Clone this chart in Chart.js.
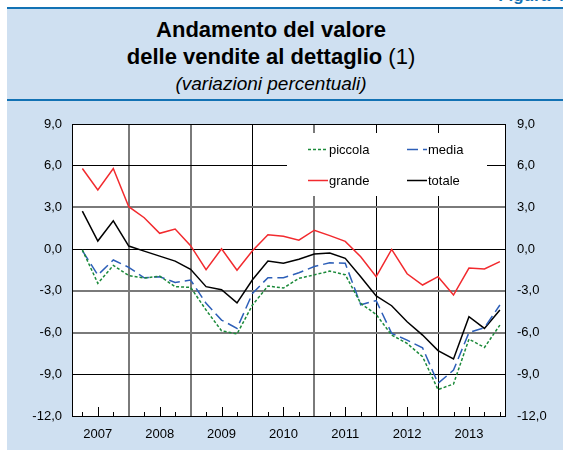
<!DOCTYPE html>
<html>
<head>
<meta charset="utf-8">
<script src="https://cdn.jsdelivr.net/npm/chart.js@4.4.1/dist/chart.umd.min.js"></script>
<style>
  html, body { margin: 0; padding: 0; background: #fff; }
  body { width: 563px; height: 450px; position: relative; overflow: hidden; font-family: 'Liberation Sans', Arial, sans-serif; }
  #panel { position: absolute; left: 7px; top: 7px; width: 556px; height: 443px; background: #cfe0f1; }
  .rule { position: absolute; left: 7px; width: 556px; height: 2px; background: #1272b4; }
  .title { position: absolute; left: 0; width: 542px; text-align: center; color: #000; white-space: nowrap; }
  .t1 { font-size: 22px; line-height: 22px; font-weight: bold; }
  .t1 span { font-weight: normal; }
  .t3 { font-size: 19px; line-height: 19px; font-style: italic; }
  #figura { position: absolute; right: -6px; top: -14px; font-size: 17px; font-weight: bold; color: #1272b4; }
  #chart { position: absolute; left: 7px; top: 102px; }
</style>
</head>
<body>
<div id="panel"></div>
<div id="figura">Figura 4.</div>
<div class="rule" style="top:7px"></div>
<div class="rule" style="top:99px"></div>
<div class="title t1" style="top:19px">Andamento del valore</div>
<div class="title t1" style="top:46px">delle vendite al dettaglio <span>(1)</span></div>
<div class="title t3" style="top:74px">(variazioni percentuali)</div>
<canvas id="chart" width="556" height="348"></canvas>
<script>
// trimestri 2007 T1 - 2013 T4
const years = ['2007', '2008', '2009', '2010', '2011', '2012', '2013']
const yTicks = [9, 6, 3, 0, -3, -6, -9, -12]

const piccola = [-0.05, -2.46, -1.17, -1.9, -2.08, -1.94, -2.7, -2.75, -4.38, -5.87, -6.1, -4.02, -2.65, -2.8, -2.1, -1.85, -1.58, -1.84, -3.9, -4.7, -6.18, -6.78, -7.74, -10.1, -9.7, -6.47, -7.07, -5.46]
const media = [-0.1, -1.86, -0.78, -1.31, -2.06, -1.98, -2.39, -2.22, -3.9, -5.1, -5.7, -3.18, -2.05, -2.05, -1.7, -1.25, -0.98, -1.02, -4.0, -3.7, -6.06, -6.54, -7.1, -9.65, -8.7, -6.0, -5.65, -4.02]
const grande = [5.8, 4.25, 5.8, 3.05, 2.26, 1.14, 1.45, 0.25, -1.47, 0.02, -1.52, -0.12, 1.03, 0.92, 0.64, 1.36, 0.97, 0.56, -0.55, -1.98, -0.02, -1.77, -2.58, -1.98, -3.3, -1.36, -1.43, -0.9]
const totale = [2.74, 0.58, 2.04, 0.22, -0.14, -0.5, -0.86, -1.45, -2.7, -2.92, -3.86, -2.2, -0.86, -1.02, -0.73, -0.35, -0.28, -0.66, -1.98, -3.37, -4.07, -5.22, -6.18, -7.3, -7.9, -4.86, -5.7, -4.38]

const FONT = "'Liberation Sans', Arial, sans-serif"
const toPoints = arr => arr.map((v, i) => ({ x: i, y: v }))
const fmt = v => v.toFixed(1).replace('.', ',')

// grid lines that look gray/thick in the original
const grayY = [3, -3, -6]
const grayX = [3, 7, 15]
const last = piccola.length - 1

const isYearLine = v => (v + 1) % 4 === 0 && v < last

const plotBackground = {
  id: 'plotBackground',
  beforeDraw(chart) {
    const { ctx, chartArea: a } = chart
    ctx.save()
    ctx.fillStyle = '#fff'
    ctx.fillRect(a.left, a.top, a.right - a.left, a.bottom - a.top)
    ctx.restore()
  }
}

const innerLegend = {
  id: 'innerLegend',
  beforeDatasetsDraw(chart) {
    const { ctx, chartArea: a } = chart
    const x0 = a.left + 215, y0 = a.top + 9
    ctx.save()
    ctx.fillStyle = '#fff'
    ctx.fillRect(x0, y0, 200, 63)

    // small ticks on the bottom axis
    const xs = chart.scales.x
    ctx.strokeStyle = '#000'
    ctx.lineWidth = 1
    for (let i = 0; i <= last; i++) {
      if (isYearLine(i)) continue
      const px = Math.round(xs.getPixelForValue(i)) + 0.5
      const len = i % 4 === 1 ? 9 : 4
      ctx.beginPath()
      ctx.moveTo(px, a.bottom)
      ctx.lineTo(px, a.bottom - len)
      ctx.stroke()
    }

    ctx.font = '13px ' + FONT
    ctx.textBaseline = 'middle'
    ctx.fillStyle = '#000'
    chart.data.datasets.forEach((ds, i) => {
      const lx = x0 + 21 + (i % 2) * 99
      const ly = y0 + 16.5 + Math.floor(i / 2) * 31
      ctx.strokeStyle = ds.borderColor
      ctx.lineWidth = 1.5
      ctx.setLineDash(ds.borderDash || [])
      ctx.beginPath()
      ctx.moveTo(lx, ly)
      ctx.lineTo(lx + 20, ly)
      ctx.stroke()
      ctx.setLineDash([])
      ctx.fillText(ds.label, lx + 21, ly + 1)
    })
    ctx.restore()
  }
}

new Chart(document.querySelector('#chart'), {
  type: 'line',
  data: {
    datasets: [
      { label: 'piccola', data: toPoints(piccola), borderColor: '#1b8a3a', borderDash: [3, 2] },
      { label: 'media', data: toPoints(media), borderColor: '#2d5fb8', borderDash: [11, 5] },
      { label: 'grande', data: toPoints(grande), borderColor: '#f22a2e' },
      { label: 'totale', data: toPoints(totale), borderColor: '#000' }
    ]
  },
  options: {
    responsive: false,
    animation: false,
    devicePixelRatio: 1,
    layout: { padding: { top: 22, left: 0, right: 0, bottom: 0 } },
    elements: {
      point: { radius: 0 },
      line: { borderWidth: 1.5, tension: 0, fill: false }
    },
    plugins: {
      legend: { display: false },
      tooltip: { enabled: false }
    },
    scales: {
      x: {
        type: 'linear',
        min: -0.67,
        max: 27.33,
        afterBuildTicks: scale => {
          scale.ticks = piccola.map((_, i) => ({ value: i }))
        },
        afterFit: scale => { scale.height = 34 },
        border: { display: true, color: '#000', width: 1 },
        grid: {
          drawTicks: false,
          color: ctx => {
            const v = ctx.tick ? ctx.tick.value : -1
            if (!isYearLine(v)) return 'rgba(0,0,0,0)'
            return grayX.includes(v) ? '#7a7a7a' : '#000'
          },
          lineWidth: ctx => {
            const v = ctx.tick ? ctx.tick.value : -1
            return grayX.includes(v) ? 2 : 1
          }
        },
        ticks: {
          autoSkip: false,
          maxRotation: 0,
          padding: 11,
          color: '#000',
          font: { family: FONT, size: 13 },
          callback: v => (v % 4 === 1 ? years[(v - 1) / 4] : '')
        }
      },
      y: {
        position: 'left',
        min: -12,
        max: 9,
        afterBuildTicks: scale => { scale.ticks = yTicks.map(v => ({ value: v })) },
        afterFit: scale => { scale.width = 65 },
        border: { display: true, color: '#000', width: 1 },
        grid: {
          drawTicks: false,
          color: ctx => (ctx.tick && grayY.includes(ctx.tick.value) ? '#7a7a7a' : '#000'),
          lineWidth: ctx => (ctx.tick && grayY.includes(ctx.tick.value) ? 2 : 1)
        },
        ticks: {
          padding: 10,
          color: '#000',
          font: { family: FONT, size: 13 },
          callback: v => fmt(v)
        }
      },
      y2: {
        position: 'right',
        min: -12,
        max: 9,
        afterBuildTicks: scale => { scale.ticks = yTicks.map(v => ({ value: v })) },
        afterFit: scale => { scale.width = 58 },
        border: { display: true, color: '#000', width: 1 },
        grid: { display: false, drawTicks: false },
        ticks: {
          padding: 12,
          color: '#000',
          font: { family: FONT, size: 13 },
          callback: v => fmt(v)
        }
      }
    }
  },
  plugins: [plotBackground, innerLegend]
})
</script>
</body>
</html>
